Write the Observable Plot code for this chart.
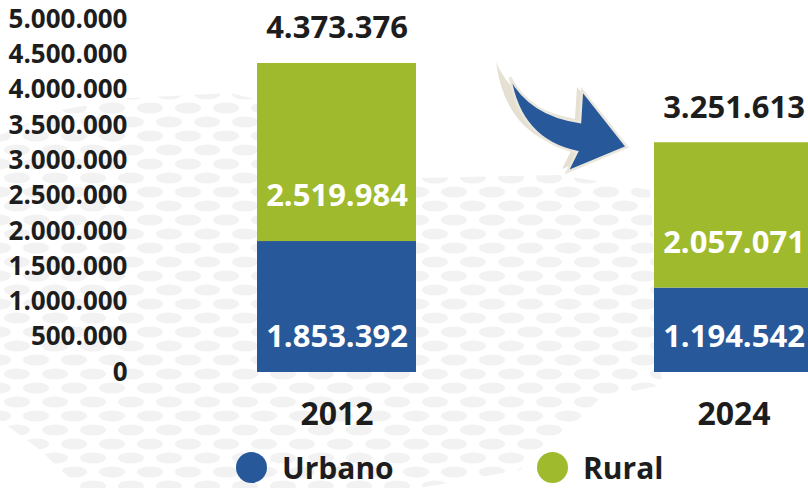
<!DOCTYPE html>
<html>
<head>
<meta charset="utf-8">
<script src="https://cdn.jsdelivr.net/npm/d3@7"></script>
<script src="https://cdn.jsdelivr.net/npm/@observablehq/plot@0.6"></script>
<style>
  html, body { margin: 0; padding: 0; background: #fff; overflow: hidden; }
  #page { position: relative; width: 808px; height: 488px; font-family: "Open Sans", sans-serif; }
  #bg { position: absolute; left: 0; top: 0; }
  #chart { position: absolute; left: 0; top: 0; }
  .leg { position: absolute; top: 452px; display: flex; align-items: center; font-size: 30px; line-height: 30px; font-weight: 700; color: #1d1d1d; }
  .sw { width: 31px; height: 31px; border-radius: 50%; margin-right: 15px; }
</style>
</head>
<body>
<div id="page">
  <svg id="bg" width="808" height="488">
    <defs>
      <pattern id="dots" patternUnits="userSpaceOnUse" width="38" height="28" patternTransform="translate(4,3)">
        <ellipse cx="13" cy="7" rx="13" ry="5.5" fill="#f2f2f2"/>
        <ellipse cx="32" cy="21" rx="13" ry="5.5" fill="#f2f2f2"/>
        <ellipse cx="-6" cy="21" rx="13" ry="5.5" fill="#f2f2f2"/>
      </pattern>
    </defs>
    <polygon fill="url(#dots)" points="0,135 60,110 130,98 230,93 260,100 420,178 560,175 650,190 662,385 600,398 568,430 520,470 420,488 80,488 40,450 0,420"/>
    <path d="M496,62 Q516,108 575,119 L577,87 L622,144 L562,169 L572,149 Q506,137 496,62 Z" fill="#e6e0d3"/>
    <path d="M510,77 Q530,115 580,122 L582,90 L627,147 L567,172 L577,152 Q520,140 510,77 Z" fill="#26589a" stroke="#ece7dc" stroke-width="2.5" stroke-linejoin="miter"/>
  </svg>
  <div id="chart"></div>
  <div class="leg" style="left:236px"><div class="sw" style="background:#26589a"></div>Urbano</div>
  <div class="leg" style="left:537px"><div class="sw" style="background:#a0ba2d"></div>Rural</div>
</div>
<script>
const years = ["2012", "2024"];
const urbano = [1853392, 1194542];
const rural = [2519984, 2057071];
const series = ["Urbano", "Rural"];
const colors = ["#26589a", "#a0ba2d"];
const yTicks = [0, 500000, 1000000, 1500000, 2000000, 2500000, 3000000, 3500000, 4000000, 4500000, 5000000];

const fmt = d3.formatLocale({decimal: ",", thousands: ".", grouping: [3], currency: ["", ""]}).format(",d");

const rows = [];
years.forEach((y, i) => {
  rows.push({year: y, type: "Urbano", value: urbano[i]});
  rows.push({year: y, type: "Rural", value: rural[i]});
});
const totals = years.map((y, i) => ({year: y, total: urbano[i] + rural[i]}));
const urbLabels = years.map((y, i) => ({year: y, base: 0, value: urbano[i]}));
const rurLabels = years.map((y, i) => ({year: y, base: urbano[i], value: rural[i]}));

const plot = Plot.plot({
  width: 808,
  height: 440,
  marginLeft: 135,
  marginRight: 0,
  marginTop: 18.7,
  marginBottom: 68,
  style: {fontFamily: "Open Sans", background: "transparent", overflow: "visible", color: "#1d1d1d"},
  x: {domain: years, range: [257, 813], paddingInner: 0.6, paddingOuter: 0, align: 0},
  y: {domain: [0, 5000000], ticks: yTicks},
  color: {domain: series, range: colors},
  marks: [
    Plot.barY(rows, Plot.stackY({x: "year", y: "value", fill: "type", order: series})),
    Plot.axisY({ticks: yTicks, tickFormat: fmt, tickSize: 0, tickPadding: 8, fontSize: 26, fontWeight: 700, dy: 0, label: null}),
    Plot.axisX({tickSize: 0, tickPadding: 30, fontSize: 32, fontWeight: 700, label: null}),
    Plot.text(totals, {x: "year", y: "total", text: d => fmt(d.total), dy: -35, fontSize: 31, fontWeight: 700, fill: "#1d1d1d"}),
    Plot.text(rurLabels, {x: "year", y: "base", text: d => fmt(d.value), dy: -45, fontSize: 31, fontWeight: 700, fill: "white"}),
    Plot.text(urbLabels, {x: "year", y: "base", text: d => fmt(d.value), dy: -35, fontSize: 31, fontWeight: 700, fill: "white"})
  ]
});
document.getElementById("chart").appendChild(plot);
</script>
</body>
</html>
